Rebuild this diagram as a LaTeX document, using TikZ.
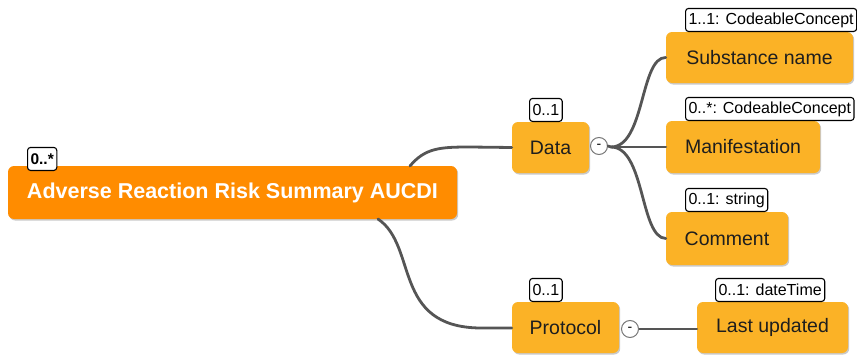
\documentclass[tikz,border=0pt]{standalone}
\usepackage{fontspec}
\setmainfont{Liberation Sans}
\usetikzlibrary{shadows}
\definecolor{rootfill}{HTML}{FF8C00}
\definecolor{itemfill}{HTML}{FBB226}
\definecolor{linkgray}{HTML}{555555}
\definecolor{itemtext}{HTML}{1E1E1E}
\tikzset{
  mapbox/.style={rounded corners=6pt, draw=none, inner sep=0pt,
    drop shadow={shadow xshift=1.2pt, shadow yshift=-1.5pt, opacity=0.35, fill=black!60}},
  rootbox/.style={mapbox, fill=rootfill, text=white,
    font=\fontsize{21.5}{24}\selectfont\bfseries},
  itembox/.style={mapbox, fill=itemfill, text=itemtext,
    font=\fontsize{19.5}{22}\selectfont},
  tag/.style={draw=black, line width=1.1pt, fill=white, rounded corners=3pt,
    inner xsep=3pt, inner ysep=0pt, minimum height=23pt, anchor=south west,
    font=\fontsize{16}{17}\selectfont},
  link/.style={draw=linkgray, line width=2.8pt, line cap=round},
  toggle/.style={circle, draw=linkgray!80, line width=1pt, fill=white,
    minimum size=17pt, inner sep=0pt, font=\fontsize{14}{14}\selectfont}
}
\begin{document}
\begin{tikzpicture}[x=1pt, y=-1pt]
\useasboundingbox (0,0) rectangle (857,356);

% free ends of the branch lines
\coordinate (rootA) at (410,166);
\coordinate (rootB) at (378,219);
\coordinate (fork) at (611,147);
\coordinate (pfork) at (638,329);

% boxes
\node[rootbox, minimum width=449pt, minimum height=53pt] (root) at (232.5,192.5) {Adverse Reaction Risk Summary AUCDI};
\node[itembox, minimum width=77pt, minimum height=51pt] (data) at (550.5,147.5) {Data};
\node[itembox, minimum width=107pt, minimum height=51pt] (protocol) at (565.5,327.5) {Protocol};
\node[itembox, minimum width=187pt, minimum height=51pt] (subst) at (759.5,57.5) {Substance name};
\node[itembox, minimum width=154pt, minimum height=52pt] (manif) at (743,147) {Manifestation};
\node[itembox, minimum width=122pt, minimum height=53pt] (comment) at (727,238.5) {Comment};
\node[itembox, minimum width=151pt, minimum height=51pt] (lastup) at (772.5,327.5) {Last updated};

% branch lines
\draw[link] (rootA) .. controls (425,148) and (440,147) .. (470,147) -- (data.west);
\draw[link] (rootB) .. controls (418,246) and (392,327) .. (480,328) -- (protocol.west |- 0,328);
\draw[link] (fork) .. controls (645,147) and (640,57) .. (subst.west);
\draw[link] (fork) -- (manif.west);
\draw[link] (fork) .. controls (645,147) and (640,238) .. (comment.west);
\draw[link] (pfork) -- (lastup.west |- pfork);

% collapse toggles
\node[toggle] (dtog) at (599,146) {-};
\draw[link] (dtog.east) -- (fork);
\node[toggle] (ptog) at (630,329) {-};

% cardinality tags
\node[tag, font=\fontsize{15.5}{17}\selectfont\bfseries] (troot) at (27,171) {0..*};
\node[tag] (tdata) at (529,122) {0..1};
\node[tag] (tprot) at (529,302) {0..1};
\node[tag] (tsubst) at (685,32) {1..1: CodeableConcept};
\node[tag] (tmanif) at (685,121) {0..*: CodeableConcept};
\node[tag] (tcomm) at (685,212) {0..1: string};
\node[tag] (tlast) at (715,302) {0..1: dateTime};
\end{tikzpicture}
\end{document}
